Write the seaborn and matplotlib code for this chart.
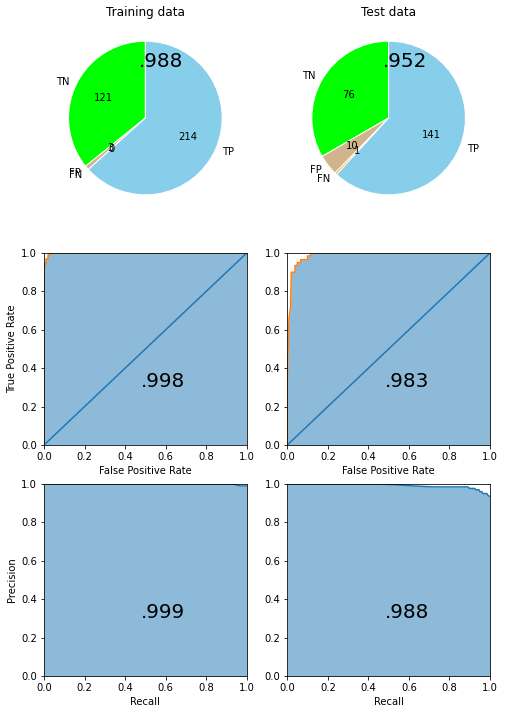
import numpy as np
import matplotlib
matplotlib.use("Agg")
import matplotlib.pyplot as plt
import seaborn as sns

# ---- data ----
pie_labels = ["TN", "FP", "FN", "TP"]
pie_colors = ["#00ff00", "#d2b48c", "orange", "skyblue"]
train_counts = [121, 3, 0, 214]
test_counts = [76, 10, 1, 141]
train_acc = ".988"
test_acc = ".952"

train_fpr = [0.0, 0.0, 0.005, 0.005, 0.012, 0.012, 0.02, 0.02, 0.03, 0.03, 1.0]
train_tpr = [0.0, 0.93, 0.93, 0.95, 0.95, 0.97, 0.97, 0.99, 0.99, 1.0, 1.0]
train_auc = ".998"

test_fpr = [0.0, 0.0, 0.008, 0.016, 0.02, 0.038, 0.038, 0.05, 0.05, 0.066, 0.066, 0.10, 0.10, 0.115, 0.115, 1.0]
test_tpr = [0.0, 0.32, 0.65, 0.72, 0.90, 0.90, 0.935, 0.935, 0.95, 0.95, 0.965, 0.965, 0.985, 0.985, 1.0, 1.0]
test_auc = ".983"

train_recall = [0.0, 0.93, 0.95, 0.966, 1.0]
train_precision = [1.0, 1.0, 0.995, 0.99, 0.99]
train_ap = ".999"

test_recall = [0.0, 0.45, 0.55, 0.62, 0.72, 0.89, 0.90, 0.925, 0.93, 0.945, 0.95, 0.96, 0.965, 0.985, 0.99, 1.0]
test_precision = [1.0, 1.0, 0.995, 0.99, 0.985, 0.985, 0.977, 0.977, 0.97, 0.97, 0.96, 0.96, 0.95, 0.95, 0.94, 0.935]
test_ap = ".988"

W, H = 505, 713
fig, axes = plt.subplots(3, 2, figsize=(W / 72, H / 72), dpi=72)
fig.subplots_adjust(left=44 / W, right=490 / W, top=1 - 22 / H, bottom=1 - 676 / H,
                    wspace=0.2, hspace=39 / 192)

blue = sns.color_palette()[0]
orange = sns.color_palette()[1]


def pie(ax, counts, title, acc):
    total = sum(counts)
    ax.pie(counts, labels=pie_labels, colors=pie_colors, startangle=90,
           autopct=lambda p: f"{p * total / 100:.0f}",
           wedgeprops={"edgecolor": "white", "linewidth": 1})
    ax.set_title(title)
    ax.text(-0.08, 0.67, acc, fontsize=20, ha="left", va="baseline")


pie(axes[0, 0], train_counts, "Training data", train_acc)
pie(axes[0, 1], test_counts, "Test data", test_acc)


def roc(ax, fpr, tpr, auc, ylabel):
    sns.lineplot(x=[0, 1], y=[0, 1], ax=ax, color=blue)
    sns.lineplot(x=fpr, y=tpr, ax=ax, color=orange, sort=False, estimator=None)
    ax.fill_between(fpr, tpr, color=blue, alpha=0.5, linewidth=0)
    ax.set_xlim(0, 1)
    ax.set_ylim(0, 1)
    ax.set_xlabel("False Positive Rate")
    if ylabel:
        ax.set_ylabel("True Positive Rate")
    ax.text(0.48, 0.3, auc, fontsize=20)


roc(axes[1, 0], train_fpr, train_tpr, train_auc, True)
roc(axes[1, 1], test_fpr, test_tpr, test_auc, False)


def pr(ax, rec, prec, ap, ylabel):
    sns.lineplot(x=rec, y=prec, ax=ax, color=blue, sort=False, estimator=None)
    ax.fill_between(rec, prec, color=blue, alpha=0.5, linewidth=0)
    ax.set_xlim(0, 1)
    ax.set_ylim(0, 1)
    ax.set_xlabel("Recall")
    if ylabel:
        ax.set_ylabel("Precision")
    ax.text(0.48, 0.3, ap, fontsize=20)


pr(axes[2, 0], train_recall, train_precision, train_ap, True)
pr(axes[2, 1], test_recall, test_precision, test_ap, False)

fig.savefig("out.png", dpi=72)
